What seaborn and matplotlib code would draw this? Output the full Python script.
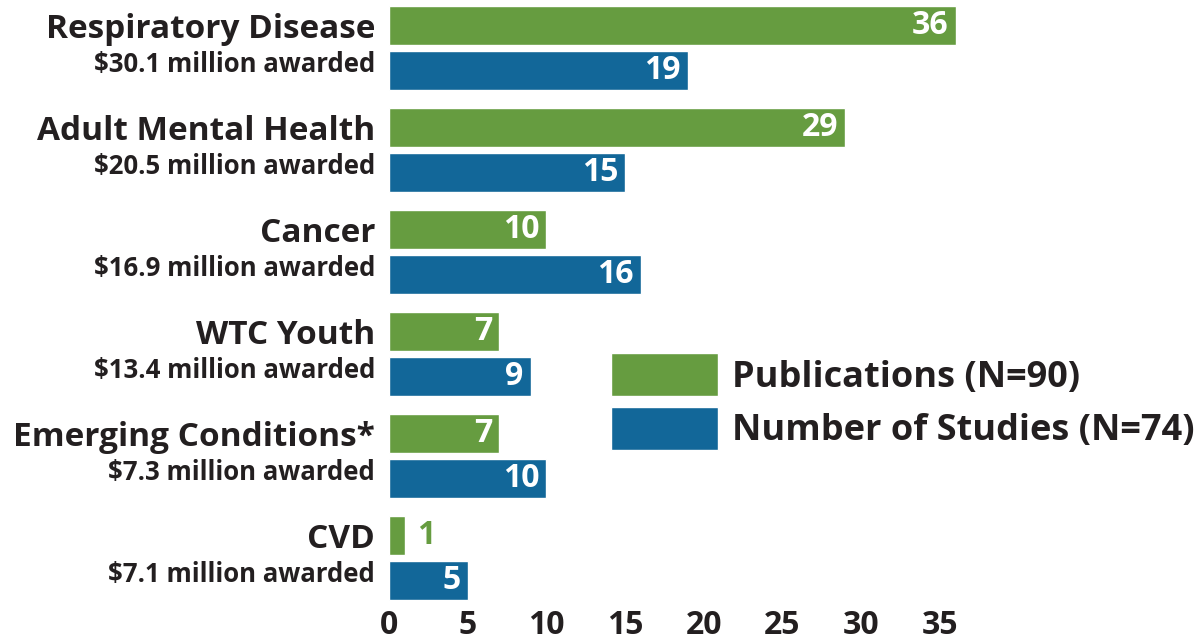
import pandas as pd
import matplotlib.pyplot as plt
import seaborn as sns

# Data
categories = ["Respiratory Disease", "Adult Mental Health", "Cancer",
              "WTC Youth", "Emerging Conditions*", "CVD"]
awarded = ["$30.1 million awarded", "$20.5 million awarded", "$16.9 million awarded",
           "$13.4 million awarded", "$7.3 million awarded", "$7.1 million awarded"]
publications = [36, 29, 10, 7, 7, 1]
studies = [19, 15, 16, 9, 10, 5]
series = ["Publications (N=90)", "Number of Studies (N=74)"]
x_ticks = [0, 5, 10, 15, 20, 25, 30, 35]

GREEN = "#669C40"
BLUE = "#126799"
DARK = "#231F20"

df = pd.DataFrame({
    "category": categories * 2,
    "count": publications + studies,
    "series": [series[0]] * len(categories) + [series[1]] * len(categories),
})

sns.set_style("white")
plt.rcParams["font.family"] = ["Open Sans", "DejaVu Sans"]
W = "bold"

fig = plt.figure(figsize=(12.03, 6.44), dpi=100)
ax = fig.add_axes([389 / 1203, 35 / 644, 598 / 1203, 612 / 644])

sns.barplot(
    data=df, x="count", y="category", hue="series", orient="h",
    palette=[GREEN, BLUE], width=0.89, gap=0.15, saturation=1,
    legend=True, ax=ax,
)

ax.set_xlim(0, 38)
ax.set_ylim(5.5, -0.5)
sns.despine(ax=ax, left=True, bottom=True)
ax.set_xlabel("")
ax.set_ylabel("")
ax.set_yticks([])
ax.set_xticks(x_ticks)
ax.tick_params(axis="x", length=0, pad=0, labelsize=23, labelcolor=DARK)
for t in ax.get_xticklabels():
    t.set_fontweight(W)

# category labels and funding lines
trans = ax.get_yaxis_transform()
for i, (cat, aw) in enumerate(zip(categories, awarded)):
    ax.text(-0.023, i - 0.18, cat, transform=trans, ha="right", va="center",
            fontsize=24, fontweight=W, color=DARK)
    ax.text(-0.023, i + 0.16, aw, transform=trans, ha="right", va="center",
            fontsize=18.5, fontweight=W, color=DARK)

# value labels
for container, vals, col in zip(ax.containers, [publications, studies], [GREEN, BLUE]):
    for bar, v in zip(container, vals):
        y = bar.get_y() + bar.get_height() / 2
        if v >= 3:
            ax.annotate(str(v), (v, y), xytext=(-5, 0), textcoords="offset points",
                        ha="right", va="center", color="white",
                        fontsize=23, fontweight=W)
        else:
            ax.annotate(str(v), (v, y), xytext=(9, 0), textcoords="offset points",
                        ha="left", va="center", color=col,
                        fontsize=23, fontweight=W)

handles, labels = ax.get_legend_handles_labels()
ax.legend(handles, labels, loc="upper left", frameon=False,
          bbox_to_anchor=(611 / 1203, 1 - 353 / 644), bbox_transform=fig.transFigure,
          borderpad=0, borderaxespad=0, handlelength=2.96, handleheight=1.46,
          handletextpad=0.4, labelspacing=0.29,
          prop={"size": 26, "weight": W}, labelcolor=DARK)

fig.savefig("out.png", dpi=100)
